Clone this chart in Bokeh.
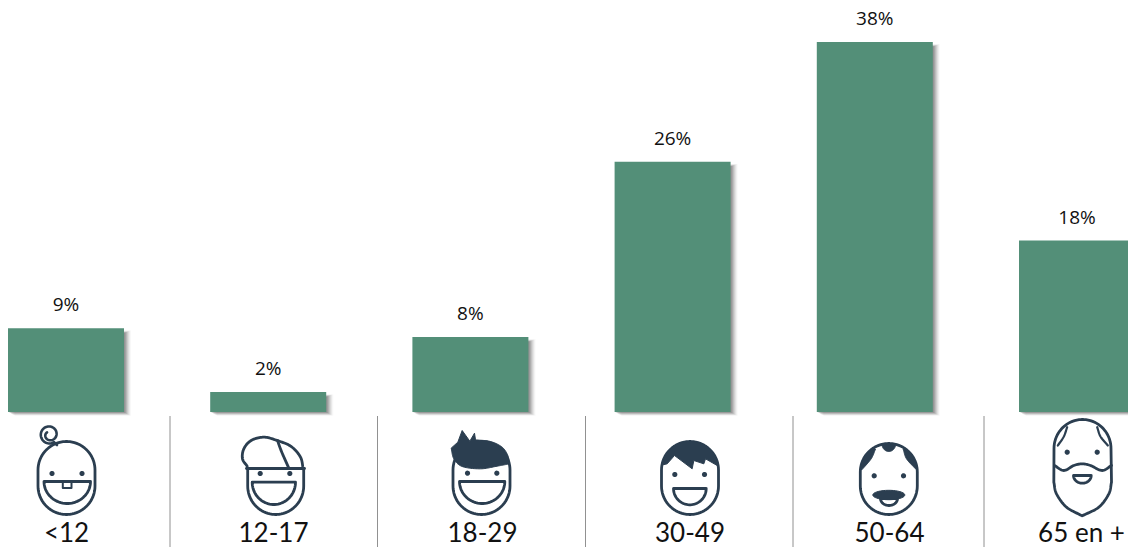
import numpy as np
from bokeh.plotting import figure
from bokeh.models import Range1d
from bokeh.core.properties import value
from bokeh.embed import file_html
from bokeh.resources import INLINE

# ---- data ----
categories = ["<12", "12-17", "18-29", "30-49", "50-64", "65 en +"]
percent_labels = ["9%", "2%", "8%", "26%", "38%", "18%"]
bar_values = [8.6, 2.05, 7.7, 25.7, 38.0, 17.6]
label_centers = [66, 273, 482, 689.5, 889, 1081]
separators = [169.5, 377, 585, 792.5, 983.5]

GREEN = "#538F78"
INK = "#2B3E50"
W, H = 1128, 547
STEP = 202.2     # px per category
UNIT = 9.74      # px per percent
X0 = 65.5        # first bar centre, px from figure left
Y0 = 411.5       # baseline, px from figure top

p = figure(width=W, height=H, output_backend="svg", toolbar_location=None,
           x_range=Range1d(-X0 / STEP, (W - X0) / STEP),
           y_range=Range1d(-(H - Y0) / UNIT, Y0 / UNIT),
           x_axis_location=None, y_axis_location=None, min_border=0,
           background_fill_color="white", border_fill_color="white")
p.outline_line_color = None
p.grid.visible = False
p.extra_x_ranges = {"px": Range1d(0, W)}
p.extra_y_ranges = {"py": Range1d(H, 0)}
PX = dict(x_range_name="px", y_range_name="py")

xs = np.arange(len(bar_values))
vals = np.array(bar_values)

# soft shadow, then the bars
for d, a in [(7, .04), (6, .07), (5, .1), (4, .13), (3, .17), (2, .2), (1, .2)]:
    p.vbar(x=xs + d / STEP, top=vals - (5 - d * .4) / UNIT, bottom=-(d * .55) / UNIT,
           width=116 / STEP, fill_color="#555555", fill_alpha=a, line_color=None)
p.vbar(x=xs, top=vals, bottom=0, width=116 / STEP, fill_color=GREEN, line_color=None)

# percent labels
p.text(x=xs, y=vals, text=percent_labels, text_align="center", text_baseline="middle",
       y_offset=-24, text_font=value("Open Sans"), text_font_size="19px", text_color="#111111")

# separators
for sx in separators:
    p.line([sx, sx], [416, 547], line_color="#222222", line_width=1, line_dash="1 1", **PX)


# ---- icon helpers (decoration, in screen pixels) ----
def smooth(pts, n=12):
    """Catmull-Rom through the given points."""
    a = np.array(pts, float)
    a = np.vstack([2 * a[0] - a[1], a, 2 * a[-1] - a[-2]])
    out = []
    for i in range(1, len(a) - 2):
        p0, p1, p2, p3 = a[i - 1], a[i], a[i + 1], a[i + 2]
        for t in np.linspace(0, 1, n, endpoint=False):
            out.append(.5 * (2 * p1 + (p2 - p0) * t + (2 * p0 - 5 * p1 + 4 * p2 - p3) * t ** 2
                             + (3 * p1 - p0 - 3 * p2 + p3) * t ** 3))
    out.append(a[-2])
    return np.array(out)


def stroke(x, y, w=2.8):
    p.line(x, y, line_color=INK, line_width=w, line_join="round", line_cap="round", **PX)


def curve(pts, w=2.8):
    c = smooth(pts)
    stroke(c[:, 0], c[:, 1], w)


def fill(pts):
    a = np.array(pts, float)
    p.patch(a[:, 0], a[:, 1], fill_color=INK, line_color=INK, line_width=1, line_join="round", **PX)


def arc(cx, cy, rx, ry, a0, a1, n=40):
    t = np.radians(np.linspace(a0, a1, n))
    return cx + rx * np.cos(t), cy + ry * np.sin(t)


def face(cx, top, bot, rx=28.5):
    x1, y1 = arc(cx, top + rx, rx, rx, 180, 360)
    x2, y2 = arc(cx, bot - rx, rx, rx, 0, 180)
    stroke(np.r_[x1, x2, x1[0]], np.r_[y1, y2, y1[0]])


def eyes(x1, x2, y, r=2.6):
    t = np.radians(np.linspace(0, 360, 24))
    for ex in (x1, x2):
        p.patch(ex + r * np.cos(t), y + r * np.sin(t), fill_color=INK, line_color=None, **PX)


def mouth(x1, x2, top, bot):
    cx, rx = (x1 + x2) / 2, (x2 - x1) / 2
    x, y = arc(cx, top, rx, bot - top, 0, 180)
    stroke(np.r_[x, x[0]], np.r_[y, y[0]])


def zoomed(ox, pts):
    return [(ox + a / 3, 400 + b / 3) for a, b in pts]


# <12
face(66, 441, 514)
eyes(51.5, 81.5, 473)
mouth(43.5, 90, 481, 503)
stroke([62.3, 62.3, 71, 71], [481, 487.5, 487.5, 481], 2)
t = np.linspace(0, 1, 90)
ang = np.radians(60 + t * 520)
rad = 9 - 5.8 * t ** 2
stroke(49 + rad * np.cos(ang), 434 + rad * np.sin(ang), 2.6)
stroke([53.5, 56.5], [441.8, 444.5], 2.6)

# 12-17
x1, y1 = arc(275.2, 485.5, 28, 28.5, 0, 180)
stroke(np.r_[303.2, x1, 247.2], np.r_[468, y1, 468])
stroke([246, 304], [468, 468])
curve(zoomed(0, [(740, 197), (726, 175), (730, 145), (752, 120), (790, 110), (830, 120),
                 (872, 138), (900, 170), (908, 205)]))
curve([(277, 440), (281, 451), (288.5, 468)])
eyes(259.7, 289.3, 473)
mouth(251.7, 295, 481.7, 504)

# 18-29
face(481, 441, 514)
top_hair = smooth(zoomed(400, [(327, 190), (322, 165), (305, 140), (270, 123), (225, 118)]))
low_hair = smooth(zoomed(400, [(152, 143), (160, 175), (185, 198), (240, 205), (290, 197), (327, 190)]))
fill(list(map(tuple, top_hair)) + zoomed(400, [(222, 98), (208, 122), (185, 90), (172, 125)])
     + list(map(tuple, low_hair)))
eyes(467, 496.3, 472.7)
mouth(459, 504.3, 481, 503)

# 30-49
face(689.5, 441, 514)
x2, y2 = arc(689.5, 469.5, 28.5, 28.5, 190, 352)
fill(list(zip(x2, y2)) + zoomed(400, [(950, 195), (915, 175), (910, 190), (880, 180),
                                       (875, 205), (822, 165), (800, 190)]))
eyes(674.3, 704, 474)
mouth(673, 705.7, 488, 504.3)

# 50-64
face(888.3, 443, 514)
x3, y3 = arc(888.3, 471.5, 28.5, 28.5, 185, 238)
fill(list(zip(x3, y3)) + list(map(tuple, smooth(zoomed(780, [(285, 146), (272, 175), (245, 207)])))))
x3, y3 = arc(888.3, 471.5, 28.5, 28.5, 302, 355)
fill(list(zip(x3, y3)) + list(map(tuple, smooth(zoomed(780, [(405, 205), (378, 175), (368, 146)])))))
x3, y3 = arc(888.3, 443, 7, 8, 0, 180)
fill(list(zip(x3, y3)))
eyes(873.7, 903, 475.3)
x3, y3 = arc(888.3, 494.5, 16, 4.7, 0, 360)
fill(list(zip(x3, y3)))
mouth(880, 897, 498, 505)

# 65 en +
xa, ya = arc(1082, 448, 28.5, 29, 180, 360)
lower = smooth(zoomed(780, [(993, 245), (985, 280), (955, 320), (905, 346)]))
lower2 = smooth(zoomed(780, [(905, 346), (858, 320), (828, 280), (820, 245)]))
stroke(np.r_[xa, lower[:, 0], lower2[:, 0], xa[0]], np.r_[ya, lower[:, 1], lower2[:, 1], ya[0]])
curve(zoomed(780, [(822, 195), (850, 210), (880, 195), (905, 190), (930, 195), (965, 210), (993, 195)]))
curve(zoomed(780, [(860, 80), (850, 108), (832, 135)]), 2.2)
curve(zoomed(780, [(950, 80), (960, 108), (982, 135)]), 2.2)
eyes(1066.7, 1096.7, 451.7)
mouth(1073, 1090.7, 475, 482.7)

# category labels
p.text(x=label_centers, y=[531.5] * 6, text=categories, text_align="center", text_baseline="middle",
       text_font=value("Lato"), text_font_size="26px", text_color="#111111", **PX)

open("out.html", "w").write(file_html(p, INLINE))
